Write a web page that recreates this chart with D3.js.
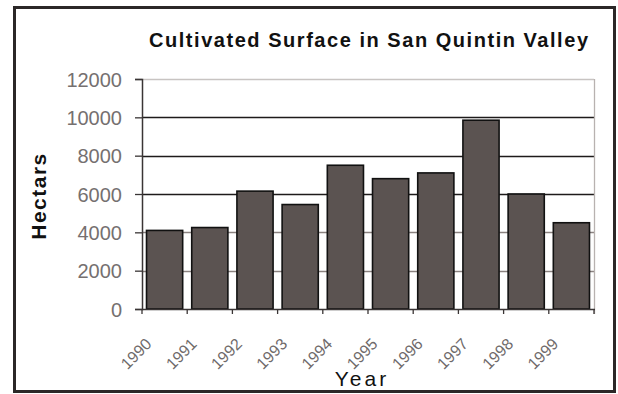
<!DOCTYPE html>
<html>
<head>
<meta charset="utf-8">
<script src="https://cdn.jsdelivr.net/npm/d3@7"></script>
<style>
  html, body { margin: 0; padding: 0; background: #fff; }
  svg { display: block; }
</style>
</head>
<body>
<svg id="chart" width="618" height="394"></svg>
<script>
// Cultivated surface (hectares) per year
const years = ["1990", "1991", "1992", "1993", "1994", "1995", "1996", "1997", "1998", "1999"];
const hectares = [4100, 4250, 6150, 5450, 7500, 6800, 7100, 9850, 6000, 4500];
const yTicks = [0, 2000, 4000, 6000, 8000, 10000, 12000];

const titleText = "Cultivated Surface in San Quintin Valley";
const xTitle = "Year";
const yTitle = "Hectars";

const svg = d3.select("#chart");
const plot = { left: 142, right: 594, top: 79, bottom: 309 };
const font = "Arial, 'Liberation Sans', sans-serif";

// outer frame
svg.append("rect")
  .attr("x", 14.5).attr("y", 7.5)
  .attr("width", 600).attr("height", 384)
  .attr("fill", "#fff")
  .attr("stroke", "#2b2828").attr("stroke-width", 3);

const x = d3.scaleBand()
  .domain(years)
  .range([plot.left, plot.right])
  .paddingInner(0.2)
  .paddingOuter(0.1);

const y = d3.scaleLinear()
  .domain([0, 12000])
  .range([plot.bottom, plot.top]);

// horizontal gridlines
const gridColor = v => (v === 12000 ? "#c8c4c2" : (v >= 6000 ? "#1e1b1b" : "#8a8280"));
svg.append("g").selectAll("line")
  .data(yTicks.filter(v => v > 0))
  .join("line")
  .attr("x1", plot.left).attr("x2", plot.right)
  .attr("y1", d => Math.round(y(d)) + 0.5).attr("y2", d => Math.round(y(d)) + 0.5)
  .attr("stroke", gridColor)
  .attr("stroke-width", 1.3);

// right edge of plot area
svg.append("line")
  .attr("x1", plot.right + 0.5).attr("x2", plot.right + 0.5)
  .attr("y1", plot.top).attr("y2", plot.bottom + 5)
  .attr("stroke", "#b8b2b0").attr("stroke-width", 1.3);

// bars
svg.append("g").selectAll("rect")
  .data(years.map((yr, i) => ({ yr, v: hectares[i] })))
  .join("rect")
  .attr("x", d => x(d.yr))
  .attr("y", d => y(d.v))
  .attr("width", x.bandwidth())
  .attr("height", d => y(0) - y(d.v))
  .attr("fill", "#5b5351")
  .attr("stroke", "#111")
  .attr("stroke-width", 1.6);

// y axis
const yAxis = svg.append("g")
  .attr("transform", `translate(${plot.left},0)`)
  .call(d3.axisLeft(y).tickValues(yTicks).tickSize(7).tickPadding(13).tickFormat(d3.format("d")));
yAxis.select(".domain").attr("stroke", "#3a3535").attr("stroke-width", 1.5);
yAxis.selectAll(".tick line").attr("stroke", "#3a3535").attr("stroke-width", 1.3);
yAxis.selectAll(".tick text")
  .attr("font-family", font)
  .attr("font-size", 20)
  .attr("fill", "#757070")
  .attr("dy", "0.36em");

// x axis line and ticks at category boundaries
const step = x.step();
const boundaries = years.map(yr => x(yr) - step * x.paddingInner() / 2)
  .concat([x(years[years.length - 1]) + x.bandwidth() + step * x.paddingInner() / 2]);
svg.append("line")
  .attr("x1", plot.left).attr("x2", plot.right + 1)
  .attr("y1", plot.bottom + 0.5).attr("y2", plot.bottom + 0.5)
  .attr("stroke", "#3a3535").attr("stroke-width", 1.5);
svg.append("g").selectAll("line")
  .data(boundaries)
  .join("line")
  .attr("x1", d => d).attr("x2", d => d)
  .attr("y1", plot.bottom).attr("y2", plot.bottom + 5)
  .attr("stroke", "#3a3535").attr("stroke-width", 1.3);

// rotated year labels
svg.append("g").selectAll("text")
  .data(years)
  .join("text")
  .attr("transform", d => `translate(${x(d) + x.bandwidth() / 2 - 12},${plot.bottom + 36}) rotate(-45)`)
  .attr("text-anchor", "end")
  .attr("font-family", font)
  .attr("font-size", 16)
  .attr("fill", "#6f6a6a")
  .text(d => d);

// title
svg.append("text")
  .attr("x", 149).attr("y", 47)
  .attr("font-family", font)
  .attr("font-weight", "bold")
  .attr("font-size", 20)
  .attr("textLength", 439)
  .attr("lengthAdjust", "spacing")
  .attr("fill", "#111")
  .text(titleText);

// axis titles
svg.append("text")
  .attr("x", 362).attr("y", 386)
  .attr("text-anchor", "middle")
  .attr("font-family", font)
  .attr("font-size", 21)
  .attr("letter-spacing", 3)
  .attr("fill", "#111")
  .text(xTitle);

svg.append("text")
  .attr("transform", "translate(46,196) rotate(-90)")
  .attr("text-anchor", "middle")
  .attr("font-family", font)
  .attr("font-weight", "bold")
  .attr("font-size", 21)
  .attr("letter-spacing", 1.5)
  .attr("fill", "#111")
  .text(yTitle);
</script>
</body>
</html>
